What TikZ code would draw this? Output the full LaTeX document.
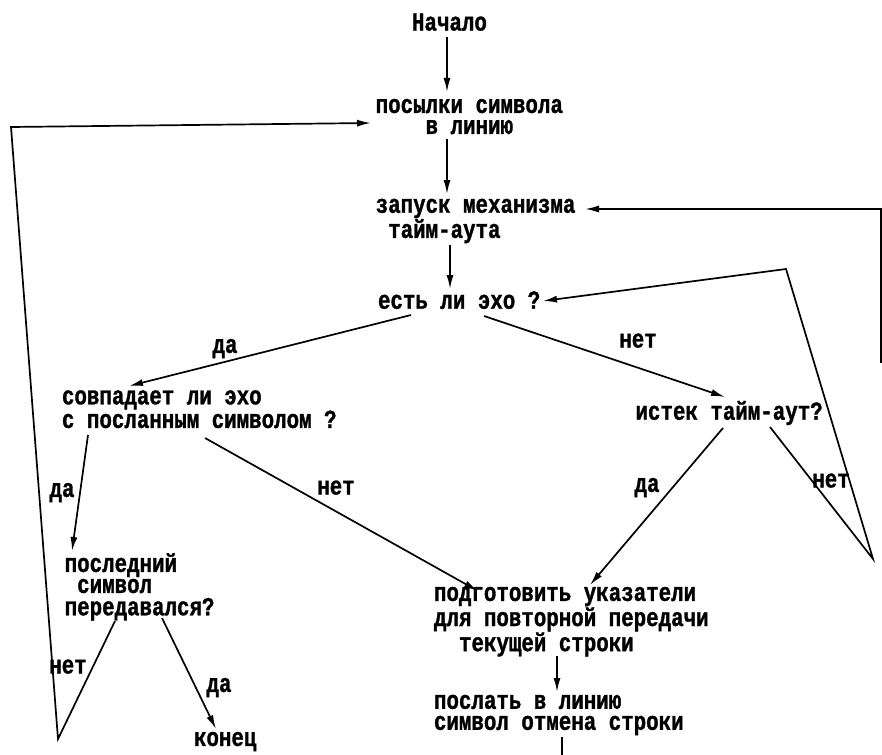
\documentclass[tikz,border=0pt]{standalone}
\usepackage{fontspec}
\newfontfamily\tw[FakeStretch=0.80,BoldFeatures={FakeBold=1.2}]{Liberation Mono}
\usetikzlibrary{arrows.meta}
\newcommand{\sstrut}{\rule[-4pt]{0pt}{19pt}}
\begin{document}
\begin{tikzpicture}[x=1pt,y=-1pt,
  txt/.style={font=\tw\bfseries\fontsize{26}{21}\selectfont, inner sep=0pt, outer sep=0pt},
  box/.style={txt, anchor=west, align=left},
  cbox/.style={txt, anchor=west, align=center},
  lbl/.style={txt, anchor=center},
  conn/.style={line width=1.7pt, -{Latex[length=14pt,width=7pt]}},
  plain/.style={line width=1.7pt}]
\useasboundingbox (0,0) rectangle (882,754);
\fill[white] (0,0) rectangle (882,754);

% nodes
\node[box] (start) at (412,24) {\sstrut Начало};
\node[cbox] (send) at (375.7,117.9) {\sstrut посылки символа\\\sstrut в линию};
\node[box] (timer) at (375.7,220.5) {\sstrut запуск механизма\\\sstrut\hspace*{12.5pt}тайм-аута};
\node[box] (echo) at (378,302) {\sstrut есть ли эхо ?};
\node[box] (match) at (62,410.6) {\sstrut совпадает ли эхо\\\sstrut с посланным символом ?};
\node[box] (timeout) at (635.5,413) {\sstrut истек тайм-аут?};
\node[box] (last) at (64.7,586.9) {\sstrut последний\\\sstrut\hspace*{12.5pt}символ\\\sstrut передавался?};
\node[box] (prep) at (434,621.2) {\sstrut подготовить указатели\\\sstrut для повторной передачи\\\sstrut\hspace*{25pt}текущей строки};
\node[box] (cancel) at (434,714.5) {\sstrut послать в линию\\\sstrut символ отмена строки};
\node[box] (end) at (194,741) {\sstrut конец};

% labels
\node[lbl] (l1) at (225,348) {\sstrut да};
\node[lbl] (l2) at (638,342) {\sstrut нет};
\node[lbl] (l3) at (62,492) {\sstrut да};
\node[lbl] (l4) at (336,489) {\sstrut нет};
\node[lbl] (l5) at (647,487) {\sstrut да};
\node[lbl] (l6) at (831,482) {\sstrut нет};
\node[lbl] (l7) at (68,668) {\sstrut нет};
\node[lbl] (l8) at (219,687) {\sstrut да};

% free corner coordinates
\coordinate (cR1) at (873,559);
\coordinate (cR2) at (786,269);
\coordinate (cR3) at (881,363);
\coordinate (cR4) at (881,209);
\coordinate (cL1) at (58,739);
\coordinate (cL2) at (11,127);
\coordinate (cB) at (562,756);

% connectors
\draw[conn] ([shift={(35,13)}]start.west) -- ([shift={(71.3,-25.9)}]send.west);
\draw[conn] ([shift={(71.3,21.1)}]send.west) -- ([shift={(71.3,-26.5)}]timer.west);
\draw[conn] ([shift={(74.3,24.5)}]timer.west) -- ([shift={(72,-13)}]echo.west);
\draw[conn] ([shift={(33,13)}]echo.west) -- ([shift={(67,-24.6)}]match.west);
\draw[conn] ([shift={(106,14)}]echo.west) -- ([shift={(89.5,-16)}]timeout.west);
\draw[conn] ([shift={(26,24.4)}]match.west) -- ([shift={(7.3,-35.9)}]last.west);
\draw[conn] ([shift={(143,27.4)}]match.west) -- ([shift={(44,-30.2)}]prep.west);
\draw[conn] ([shift={(87.5,15)}]timeout.west) -- ([shift={(156,-36.2)}]prep.west);
\draw[conn] ([shift={(134.5,14)}]timeout.west) -- (cR1) -- (cR2) -- ([shift={(165,-1)}]echo.west);
\draw[conn] (cR3) -- (cR4) -- ([shift={(209.3,-11.5)}]timer.west);
\draw[conn] ([shift={(123,34.8)}]prep.west) -- ([shift={(123,-22.5)}]cancel.west);
\draw[plain] ([shift={(128,22.5)}]cancel.west) -- (cB);
\draw[conn] ([shift={(50.3,34.1)}]last.west) -- (cL1) -- (cL2) -- ([shift={(-4.7,5.1)}]send.west);
\draw[conn] ([shift={(97.3,31.1)}]last.west) -- ([shift={(22,-12)}]end.west);
\end{tikzpicture}
\end{document}
